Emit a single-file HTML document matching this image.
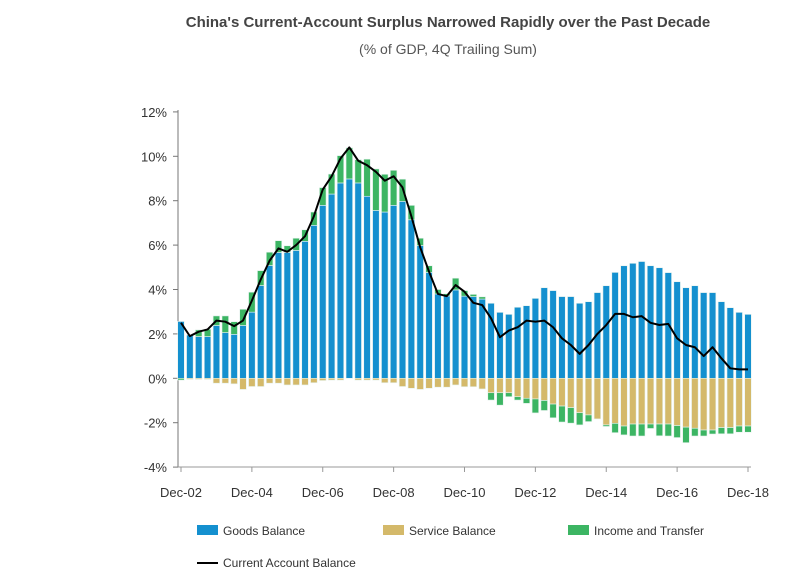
<!DOCTYPE html>
<html><head><meta charset="utf-8"><style>
body{margin:0;background:#fff;font-family:"Liberation Sans",sans-serif;}
svg text{font-family:"Liberation Sans",sans-serif;}
</style></head><body>
<svg width="812" height="583" xmlns="http://www.w3.org/2000/svg">
<text x="448" y="27" text-anchor="middle" font-size="15" font-weight="bold" fill="#444">China's Current-Account Surplus Narrowed Rapidly over the Past Decade</text>
<text x="448" y="54" text-anchor="middle" font-size="14" fill="#555">(% of GDP, 4Q Trailing Sum)</text>
<g id="plot"></g>
<g>
<rect x="197" y="525" width="21" height="10" fill="#1490cf"/>
<text x="223" y="535" font-size="12" fill="#333">Goods Balance</text>
<rect x="383" y="525" width="21" height="10" fill="#d4b96a"/>
<text x="409" y="535" font-size="12" fill="#333">Service Balance</text>
<rect x="568" y="525" width="21" height="10" fill="#3cb563"/>
<text x="594" y="535" font-size="12" fill="#333">Income and Transfer</text>
<line x1="197" y1="563" x2="218" y2="563" stroke="#000" stroke-width="2"/>
<text x="223" y="567" font-size="12" fill="#333">Current Account Balance</text>
</g>
</svg>
<script>
const goods=[2.56,1.95,1.88,1.88,2.38,2.06,1.98,2.38,2.98,4.18,5.08,5.67,5.67,5.76,6.17,6.89,7.79,8.30,8.80,8.98,8.80,8.20,7.56,7.49,7.79,7.97,7.14,5.98,4.77,3.80,3.71,3.98,3.7,3.68,3.57,3.38,2.97,2.88,3.2,3.27,3.6,4.08,3.95,3.68,3.68,3.38,3.45,3.86,4.17,4.77,5.07,5.18,5.26,5.07,4.98,4.76,4.35,4.08,4.17,3.86,3.86,3.45,3.18,2.97,2.88];
const service=[0,-0.05,-0.05,-0.05,-0.22,-0.22,-0.25,-0.5,-0.37,-0.37,-0.22,-0.22,-0.3,-0.3,-0.3,-0.2,-0.1,-0.08,-0.08,0,-0.08,-0.08,-0.08,-0.2,-0.2,-0.37,-0.45,-0.5,-0.45,-0.4,-0.4,-0.3,-0.38,-0.38,-0.48,-0.65,-0.65,-0.65,-0.83,-0.9,-0.93,-1.0,-1.16,-1.25,-1.32,-1.55,-1.65,-1.83,-2.1,-2.03,-2.15,-2.06,-2.06,-2.06,-2.06,-2.06,-2.13,-2.2,-2.25,-2.33,-2.33,-2.22,-2.22,-2.15,-2.15];
const income=[-0.08,0,0.3,0.33,0.43,0.75,0.57,0.73,0.9,0.67,0.6,0.53,0.3,0.55,0.52,0.6,0.8,0.9,1.23,1.4,1.05,1.67,1.87,1.7,1.58,1.0,0.65,0.33,0.3,0.2,0.1,0.53,0.25,0.1,0.1,-0.33,-0.56,-0.18,-0.15,-0.23,-0.63,-0.45,-0.62,-0.72,-0.7,-0.55,-0.3,0,-0.07,-0.42,-0.4,-0.54,-0.54,-0.2,-0.53,-0.54,-0.54,-0.7,-0.35,-0.27,-0.18,-0.28,-0.28,-0.28,-0.28];
const currentAccount=[2.5,1.9,2.1,2.2,2.6,2.55,2.35,2.6,3.5,4.45,5.3,5.85,5.7,6.0,6.4,7.3,8.5,9.1,9.9,10.4,9.8,9.6,9.3,8.9,9.1,8.6,7.3,5.9,4.8,3.8,3.7,4.2,3.9,3.4,3.3,2.7,1.85,2.15,2.3,2.6,2.55,2.6,2.3,1.8,1.5,1.1,1.5,2.0,2.4,2.9,2.9,2.75,2.8,2.5,2.4,2.45,1.8,1.5,1.4,1.0,1.4,0.9,0.45,0.4,0.4];
const yTicks=[12,10,8,6,4,2,0,-2,-4];
const xLabels=["Dec-02","Dec-04","Dec-06","Dec-08","Dec-10","Dec-12","Dec-14","Dec-16","Dec-18"];
const NS="http://www.w3.org/2000/svg";
const g=document.getElementById('plot');
const x0=181,dx=(748-181)/64;
function xs(i){return x0+i*dx;}
function ys(v){return 378.3-v*22.2;}
function mk(t,a){const e=document.createElementNS(NS,t);for(const k in a)e.setAttribute(k,a[k]);g.appendChild(e);return e;}
let ax=mk('line',{x1:178,y1:110,x2:178,y2:467,stroke:'#777','stroke-width':1});


let bx=mk('line',{x1:178,y1:467,x2:751,y2:467,stroke:'#999','stroke-width':1});


yTicks.forEach(v=>{
 const t=mk('line',{x1:173,y1:ys(v),x2:178,y2:ys(v),stroke:'#777'});
 
 
 const l=mk('text',{x:167,y:ys(v)+5,'text-anchor':'end','font-size':13,fill:'#333'});
 l.textContent=v+'%';
 
 
});
xLabels.forEach((s,k)=>{
 const x=xs(k*8);
 const t=mk('line',{x1:x,y1:467,x2:x,y2:472,stroke:'#999'});
 
 
 const l=mk('text',{x:x,y:497,'text-anchor':'middle','font-size':13,fill:'#333'});
 l.textContent=s;
 
 
});
const bw=6.6;
function bar(x,a,b,c,name){
 const y1=ys(Math.max(a,b)),y2=ys(Math.min(a,b));
 if(y2-y1<0.3)return;
 const r=mk('rect',{x:x-bw/2,y:y1,width:bw,height:y2-y1,fill:c,stroke:'#e6f2ee','stroke-width':0.6});
 
 
}
goods.forEach((gv,i)=>{
 const x=xs(i),sv=service[i],iv=income[i];
 bar(x,0,gv,'#1490cf','bar-goods');
 bar(x,0,sv,'#d4b96a','bar-service');
 if(iv>=0)bar(x,gv,gv+iv,'#3cb563','bar-income');
 else bar(x,sv,sv+iv,'#3cb563','bar-income');
});
const p=mk('polyline',{points:currentAccount.map((v,i)=>xs(i)+','+ys(v)).join(' '),fill:'none',stroke:'#000','stroke-width':2,'stroke-linejoin':'round'});


</script>
</body></html>
